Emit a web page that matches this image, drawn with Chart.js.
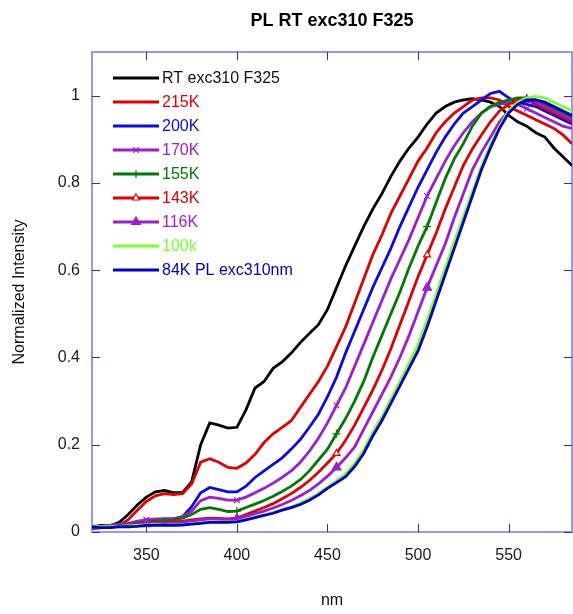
<!DOCTYPE html>
<html>
<head>
<meta charset="utf-8">
<title>PL RT exc310 F325</title>
<script src="https://cdn.jsdelivr.net/npm/chart.js@4.4.0/dist/chart.umd.min.js"></script>
<style>
  html, body { margin: 0; padding: 0; background: #fff; }
  #wrap { width: 573px; height: 614px; }
</style>
</head>
<body>
<div id="wrap"><canvas id="plChart" width="573" height="614"></canvas></div>
<script>
// wavelength grid (nm), 5 nm steps
const nm = [320, 325, 330, 335, 340, 345, 350, 355, 360, 365,
            370, 375, 380, 385, 390, 395, 400, 405, 410, 415,
            420, 425, 430, 435, 440, 445, 450, 455, 460, 465,
            470, 475, 480, 485, 490, 495, 500, 505, 510, 515,
            520, 525, 530, 535, 540, 545, 550, 555, 560, 565,
            570, 575, 580, 585];

// normalized PL intensity
const rt = [.012, .015, .014, .022, .040, .062, .080, .092, .095, .090,
            .090, .115, .200, .250, .245, .238, .240, .280, .330, .345,
            .375, .390, .410, .434, .455, .475, .510, .560, .610, .655,
            .700, .740, .775, .815, .850, .880, .905, .935, .960, .975,
            .985, .990, .993, .990, .985, .975, .955, .940, .930, .915,
            .905, .880, .860, .840];
const k215 = [.008, .010, .010, .015, .028, .050, .070, .083, .088, .086,
              .088, .110, .160, .168, .160, .148, .146, .158, .178, .205,
              .225, .240, .255, .285, .315, .345, .380, .425, .470, .525,
              .580, .635, .680, .730, .770, .810, .850, .880, .915, .940,
              .960, .975, .990, .995, .995, .990, .975, .965, .955, .945,
              .935, .925, .910, .890];
const k200 = [.010, .012, .014, .016, .018, .020, .025, .028, .030, .030,
              .035, .058, .090, .102, .097, .092, .092, .105, .125, .140,
              .155, .170, .190, .212, .240, .270, .310, .355, .410, .460,
              .510, .560, .605, .650, .700, .745, .790, .830, .870, .905,
              .935, .960, .975, .990, 1.005, 1.010, .995, .985, .980, .975,
              .965, .955, .945, .935];
const k170 = [.010, .012, .015, .018, .020, .025, .028, .030, .030, .030,
              .035, .048, .072, .080, .077, .073, .073, .080, .090, .100,
              .112, .125, .140, .160, .185, .215, .250, .290, .330, .380,
              .430, .480, .530, .580, .625, .670, .720, .770, .810, .850,
              .885, .915, .940, .960, .975, .980, .985, .980, .970, .960,
              .950, .940, .930, .925];
const k155 = [.010, .010, .012, .015, .018, .020, .022, .025, .027, .028,
              .032, .040, .052, .056, .052, .047, .048, .056, .064, .072,
              .082, .093, .105, .120, .140, .165, .190, .225, .260, .300,
              .345, .400, .450, .500, .550, .605, .655, .700, .755, .810,
              .855, .890, .930, .960, .975, .985, .990, .995, .995, .990,
              .980, .970, .960, .950];
const k143 = [.010, .010, .012, .013, .015, .018, .020, .022, .022, .023,
              .025, .028, .030, .032, .031, .030, .032, .040, .048, .056,
              .065, .076, .088, .102, .118, .137, .158, .180, .210, .245,
              .285, .325, .370, .420, .475, .530, .585, .635, .685, .740,
              .790, .840, .878, .910, .940, .965, .980, .990, .990, .980,
              .970, .960, .950, .940];
const k116 = [.008, .010, .012, .014, .015, .017, .018, .020, .020, .020,
              .022, .025, .028, .030, .029, .028, .030, .036, .042, .048,
              .055, .063, .072, .083, .095, .110, .128, .148, .170, .195,
              .235, .275, .315, .355, .400, .450, .505, .560, .610, .660,
              .720, .775, .830, .870, .905, .940, .965, .980, .990, .985,
              .975, .965, .955, .945];
const k100 = [.015, .012, .012, .013, .014, .015, .016, .017, .017, .016,
              .017, .019, .021, .023, .023, .023, .024, .029, .034, .039,
              .045, .052, .058, .066, .076, .088, .103, .117, .133, .157,
              .188, .228, .264, .304, .345, .387, .430, .485, .545, .605,
              .665, .722, .780, .838, .888, .930, .965, .985, .995, .998,
              .995, .985, .975, .965];
const k84 = [.012, .010, .010, .012, .012, .013, .015, .015, .016, .015,
             .016, .018, .020, .022, .022, .022, .023, .028, .033, .038,
             .043, .050, .056, .063, .073, .085, .100, .113, .127, .150,
             .180, .220, .255, .295, .335, .375, .415, .470, .530, .590,
             .650, .710, .770, .830, .880, .925, .960, .980, .990, .990,
             .985, .975, .965, .955];

const labels = ['RT exc310 F325', '215K', '200K', '170K', '155K', '143K', '116K', '100k', '84K PL exc310nm'];
const xTicks = [350, 400, 450, 500, 550];
const yTicks = [0, 0.2, 0.4, 0.6, 0.8, 1];
const markAt = [350, 400, 455, 505, 560];

const FONT = '"Liberation Sans", Arial, sans-serif';

// line colour, marker style, filled marker?
const looks = [
    { color: '#000000', mark: false },
    { color: '#e00000', mark: false },
    { color: '#0a0ae8', mark: false },
    { color: '#9b1ed2', mark: 'crossRot', fill: true, r: 4 },
    { color: '#007a00', mark: 'cross', fill: true, r: 4 },
    { color: '#e00000', mark: 'triangle', fill: false, r: 4 },
    { color: '#9b1ed2', mark: 'triangle', fill: true, r: 5 },
    { color: '#7dff2a', mark: false },
    { color: '#0000c8', mark: false },
];
const values = [rt, k215, k200, k170, k155, k143, k116, k100, k84];

const datasets = values.map((arr, i) => {
    const lk = looks[i];
    return {
        label: labels[i],
        data: nm.map((w, j) => ({ x: w, y: arr[j] })),
        borderColor: lk.color,
        backgroundColor: lk.fill === false ? '#ffffff' : lk.color,
        borderWidth: 2.8,
        tension: 0,
        fill: false,
        pointStyle: lk.mark || 'circle',
        pointBorderColor: lk.color,
        pointBorderWidth: 1.2,
        pointRadius: ctx => (lk.mark && ctx.raw && markAt.includes(ctx.raw.x)) ? lk.r : 0,
        pointHoverRadius: 0,
        order: values.length - i,   // later series painted on top
        mark: lk.mark,
        markFill: lk.fill,
        markR: lk.r,
    };
});

// blue box round the plot area with inward ticks
const frameTicks = {
    id: 'frameTicks',
    beforeDatasetsDraw(chart) {
        const { ctx, chartArea: a, scales: { x, y } } = chart;
        ctx.save();
        ctx.strokeStyle = '#7676ea';
        ctx.lineWidth = 1.5;
        ctx.strokeRect(a.left, a.top, a.right - a.left, a.bottom - a.top);
        ctx.strokeStyle = '#2a2ad2';
        ctx.lineWidth = 1;
        ctx.beginPath();
        xTicks.forEach(v => {
            const px = Math.round(x.getPixelForValue(v)) + 0.5;
            ctx.moveTo(px, a.bottom); ctx.lineTo(px, a.bottom - 8);
            ctx.moveTo(px, a.top); ctx.lineTo(px, a.top + 8);
        });
        yTicks.forEach(v => {
            const py = Math.round(y.getPixelForValue(v)) + 0.5;
            ctx.moveTo(a.left, py); ctx.lineTo(a.left + 8, py);
            ctx.moveTo(a.right, py); ctx.lineTo(a.right - 8, py);
        });
        ctx.stroke();
        ctx.restore();
    }
};

// legend drawn inside the plot, top left
const insideLegend = {
    id: 'insideLegend',
    afterDraw(chart) {
        const { ctx, chartArea: a } = chart;
        ctx.save();
        ctx.font = '16px ' + FONT;
        ctx.textBaseline = 'middle';
        ctx.textAlign = 'left';
        chart.data.datasets.forEach((ds, i) => {
            const yy = a.top + 26 + i * 24;
            const x0 = a.left + 21, x1 = a.left + 67;
            ctx.strokeStyle = ds.borderColor;
            ctx.lineWidth = 3;
            ctx.beginPath();
            ctx.moveTo(x0, yy); ctx.lineTo(x1, yy);
            ctx.stroke();
            if (ds.mark) {
                ctx.fillStyle = ds.markFill ? ds.borderColor : '#ffffff';
                ctx.lineWidth = 1.2;
                Chart.helpers.drawPoint(ctx, { pointStyle: ds.mark, radius: ds.markR, borderWidth: 1.2, rotation: 0 }, (x0 + x1) / 2, yy);
            }
            ctx.fillStyle = ds.borderColor === '#000000' ? '#111111' : ds.borderColor;
            ctx.fillText(ds.label, a.left + 70, yy + 1);
        });
        ctx.restore();
    }
};

// chart title centred over the plot area
const topTitle = {
    id: 'topTitle',
    afterDraw(chart) {
        const { ctx, chartArea: a } = chart;
        ctx.save();
        ctx.font = 'bold 18px ' + FONT;
        ctx.fillStyle = '#000';
        ctx.textAlign = 'center';
        ctx.textBaseline = 'middle';
        ctx.fillText('PL RT exc310 F325', (a.left + a.right) / 2, 21);
        ctx.restore();
    }
};

new Chart(document.getElementById('plChart'), {
    type: 'line',
    data: { datasets },
    options: {
        responsive: false,
        devicePixelRatio: 1,
        animation: false,
        layout: { padding: { top: 52, right: 1, left: 0, bottom: 0 } },
        plugins: {
            legend: { display: false },
            title: { display: false },
            tooltip: { enabled: false },
        },
        scales: {
            x: {
                type: 'linear',
                min: 320,
                max: 585,
                grid: { display: false, drawTicks: false },
                border: { display: false },
                ticks: {
                    stepSize: 50,
                    includeBounds: false,
                    maxRotation: 0,
                    padding: 14,
                    color: '#1a1a1a',
                    font: { family: FONT, size: 16 },
                },
                title: {
                    display: true,
                    text: 'nm',
                    color: '#111',
                    font: { family: FONT, size: 16 },
                    padding: { top: 4, bottom: 4 },
                },
                afterFit(scale) { scale.height = 82; },
            },
            y: {
                min: 0,
                max: 1.1,
                grid: { display: false, drawTicks: false },
                border: { display: false },
                ticks: {
                    stepSize: 0.2,
                    includeBounds: false,
                    padding: 12,
                    color: '#1a1a1a',
                    font: { family: FONT, size: 16 },
                    callback: v => String(Math.round(v * 10) / 10),
                },
                title: {
                    display: true,
                    text: 'Normalized Intensity',
                    color: '#111',
                    font: { family: FONT, size: 16 },
                    padding: { top: 10, bottom: 0 },
                },
                afterFit(scale) { scale.width = 92; },
            },
        },
    },
    plugins: [frameTicks, insideLegend, topTitle],
});
</script>
</body>
</html>
